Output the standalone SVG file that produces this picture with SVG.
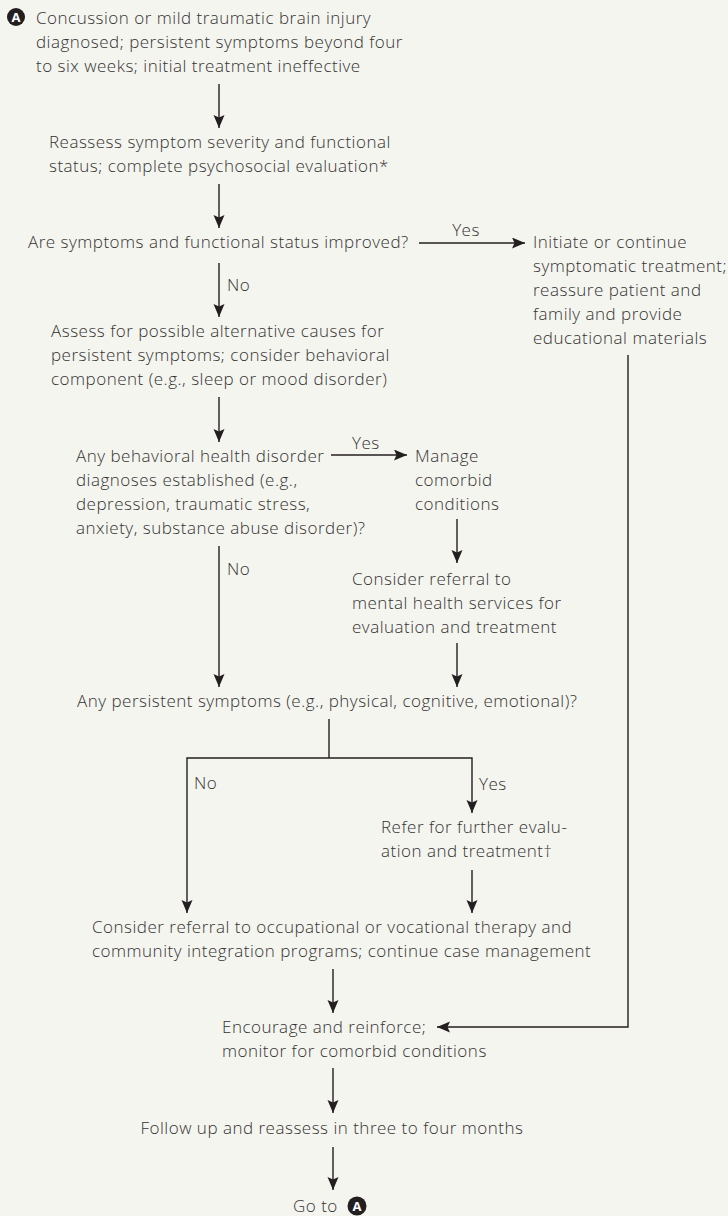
<svg xmlns="http://www.w3.org/2000/svg" width="728" height="1216" viewBox="0 0 728 1216">
<style>
text{font-family:"Open Sans","Liberation Sans",sans-serif;font-size:17px;font-weight:300;letter-spacing:0.5px;fill:#333333}
.c{stroke:#231f20;stroke-width:1.4;fill:none}
.ab{fill:#231f20}
.aw{font-family:"Open Sans","Liberation Sans",sans-serif;font-size:13px;font-weight:700;letter-spacing:0;fill:#ffffff}
</style>
<defs>
<marker id="ah" markerUnits="userSpaceOnUse" markerWidth="14" markerHeight="12" refX="13" refY="5.5" orient="auto">
<path d="M0,0 L13,5.5 L0,11 L2.5,5.5 Z" fill="#231f20"/>
</marker>
</defs>
<rect width="728" height="1216" fill="#f5f5ef"/>
<g id="connectors">
<path class="c" d="M219,84 V128" marker-end="url(#ah)"/>
<path class="c" d="M219,184 V228" marker-end="url(#ah)"/>
<path class="c" d="M419,243 H525" marker-end="url(#ah)"/>
<path class="c" d="M219,263 V317" marker-end="url(#ah)"/>
<path class="c" d="M219,397 V442" marker-end="url(#ah)"/>
<path class="c" d="M331,455 H407" marker-end="url(#ah)"/>
<path class="c" d="M457,519 V563" marker-end="url(#ah)"/>
<path class="c" d="M457,643 V687" marker-end="url(#ah)"/>
<path class="c" d="M219,546 V687" marker-end="url(#ah)"/>
<path class="c" d="M329,719 V758"/>
<path class="c" d="M329,758 H187 V913" marker-end="url(#ah)"/>
<path class="c" d="M329,758 H472 V813" marker-end="url(#ah)"/>
<path class="c" d="M472,870 V913" marker-end="url(#ah)"/>
<path class="c" d="M333,969 V1013" marker-end="url(#ah)"/>
<path class="c" d="M628,355 V1027 H437" marker-end="url(#ah)"/>
<path class="c" d="M333,1068 V1113" marker-end="url(#ah)"/>
<path class="c" d="M333,1147 V1190" marker-end="url(#ah)"/>
<text x="466" y="236" text-anchor="middle">Yes</text>
<text x="227" y="291">No</text>
<text x="352" y="449">Yes</text>
<text x="227" y="575">No</text>
<text x="194" y="789">No</text>
<text x="479" y="790">Yes</text>
</g>
<g id="start">
<circle cx="16" cy="17" r="9" class="ab"/>
<text class="aw" x="16" y="21.5" text-anchor="middle">A</text>
<text x="36" y="24">Concussion or mild traumatic brain injury</text>
<text x="36" y="48">diagnosed; persistent symptoms beyond four</text>
<text x="36" y="72">to six weeks; initial treatment ineffective</text>
</g>
<g id="reassess">
<text x="49" y="148">Reassess symptom severity and functional</text>
<text x="49" y="172">status; complete psychosocial evaluation*</text>
</g>
<g id="improved">
<text x="28" y="248">Are symptoms and functional status improved?</text>
</g>
<g id="initiate">
<text x="533" y="248">Initiate or continue</text>
<text x="533" y="272">symptomatic treatment;</text>
<text x="533" y="296">reassure patient and</text>
<text x="533" y="320">family and provide</text>
<text x="533" y="344">educational materials</text>
</g>
<g id="assess">
<text x="51" y="337">Assess for possible alternative causes for</text>
<text x="51" y="361">persistent symptoms; consider behavioral</text>
<text x="51" y="385">component (e.g., sleep or mood disorder)</text>
</g>
<g id="behavioral">
<text x="76" y="462">Any behavioral health disorder</text>
<text x="76" y="486">diagnoses established (e.g.,</text>
<text x="76" y="510">depression, traumatic stress,</text>
<text x="76" y="534">anxiety, substance abuse disorder)?</text>
</g>
<g id="manage">
<text x="415" y="462">Manage</text>
<text x="415" y="486">comorbid</text>
<text x="415" y="510">conditions</text>
</g>
<g id="mental">
<text x="352" y="585">Consider referral to</text>
<text x="352" y="609">mental health services for</text>
<text x="352" y="633">evaluation and treatment</text>
</g>
<g id="persistent">
<text x="77" y="707">Any persistent symptoms (e.g., physical, cognitive, emotional)?</text>
</g>
<g id="refer">
<text x="381" y="833">Refer for further evalu-</text>
<text x="381" y="857">ation and treatment†</text>
</g>
<g id="occupational">
<text x="92" y="933">Consider referral to occupational or vocational therapy and</text>
<text x="92" y="957">community integration programs; continue case management</text>
</g>
<g id="encourage">
<text x="222" y="1033">Encourage and reinforce;</text>
<text x="222" y="1057">monitor for comorbid conditions</text>
</g>
<g id="followup">
<text x="332" y="1134" text-anchor="middle">Follow up and reassess in three to four months</text>
</g>
<g id="goto">
<text x="293" y="1212">Go to</text>
<circle cx="357" cy="1206" r="9.5" class="ab"/>
<text class="aw" x="357" y="1210.5" text-anchor="middle">A</text>
</g>
</svg>
